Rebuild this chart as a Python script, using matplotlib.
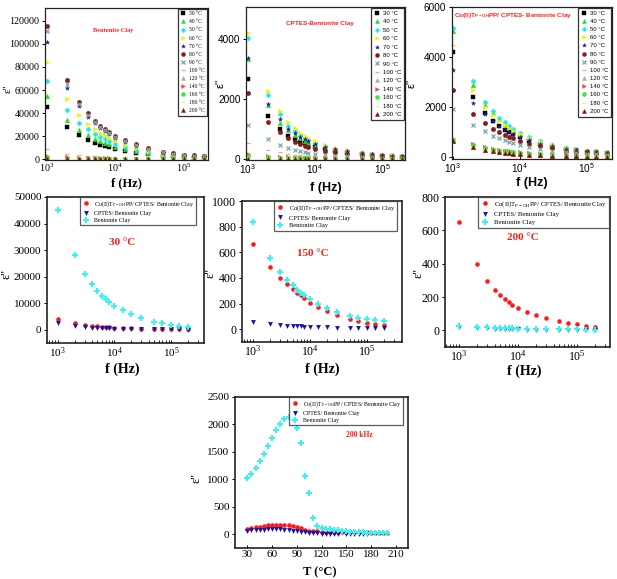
import numpy as np
import matplotlib.pyplot as plt
from matplotlib.ticker import LogLocator, NullFormatter

W, H = 617, 579

# frequency points (kHz) and temperatures of the top three panels
freq_khz = [1, 2, 3, 4, 5, 6, 7, 8, 10, 14, 20, 30, 50, 70, 100, 140, 200]
temps = [30, 40, 50, 60, 70, 80, 90, 100, 120, 140, 160, 180, 200]

bent = [
    [45000, 28200, 21000, 17100, 14500, 12700, 11400, 10400, 9000, 7300, 5800, 4400, 3000, 2400, 1800, 1400, 1000],
    [55000, 34000, 25700, 21000, 18000, 15800, 14200, 13000, 11000, 8800, 7000, 5300, 3600, 2900, 2200, 1700, 1300],
    [68000, 42500, 31500, 26000, 22000, 19300, 17300, 15700, 13400, 10600, 8400, 6300, 4300, 3400, 2600, 2000, 1550],
    [84000, 52000, 38500, 31000, 26500, 23200, 20800, 18900, 16100, 12700, 10000, 7500, 5100, 4000, 3100, 2400, 1850],
    [102000, 62000, 46000, 37000, 31500, 27500, 24500, 22200, 18900, 14900, 11700, 8700, 5900, 4600, 3600, 2800, 2200],
    [115000, 69000, 50000, 40000, 33500, 29200, 26000, 23500, 20500, 16500, 13000, 9800, 6800, 5300, 4200, 3400, 2800],
    [111000, 65000, 48000, 38500, 32500, 28300, 25200, 22800, 19800, 15900, 12500, 9400, 6500, 5100, 4000, 3200, 2600],
    [8600, 5000, 3700, 3000, 2600, 2300, 2100, 1900, 1650, 1350, 1100, 850, 620, 500, 400, 320, 260],
    [1500, 900, 650, 520, 450, 400, 360, 330, 280, 230, 190, 150, 110, 90, 70, 55, 45],
    [3200, 2000, 1500, 1250, 1100, 980, 890, 820, 720, 600, 490, 390, 290, 240, 195, 160, 130],
    [900, 560, 420, 350, 300, 270, 245, 225, 195, 160, 130, 105, 80, 66, 55, 46, 38],
    [300, 190, 145, 120, 105, 95, 86, 80, 70, 58, 48, 39, 30, 25, 21, 18, 15],
    [28, 22, 18, 16, 15, 14, 13, 12, 11, 10, 9, 8, 7, 6, 6, 5, 5],
]

cptes = [
    [2650, 1435, 1015, 775, 660, 580, 520, 470, 400, 330, 270, 215, 160, 135, 112, 95, 80],
    [3315, 1790, 1215, 950, 790, 690, 610, 550, 470, 380, 305, 240, 180, 150, 125, 105, 90],
    [4010, 2120, 1490, 1100, 920, 790, 700, 630, 540, 430, 340, 270, 200, 170, 140, 118, 100],
    [4200, 2265, 1600, 1240, 1020, 880, 780, 700, 600, 470, 370, 290, 215, 180, 150, 125, 105],
    [3370, 1820, 1330, 995, 850, 740, 660, 590, 510, 410, 330, 260, 195, 165, 138, 115, 98],
    [2210, 1240, 885, 685, 580, 505, 450, 405, 345, 280, 225, 178, 133, 112, 94, 80, 68],
    [1140, 663, 475, 354, 300, 260, 232, 210, 178, 145, 118, 94, 72, 62, 52, 45, 38],
    [550, 310, 220, 170, 145, 126, 112, 102, 86, 70, 57, 46, 35, 30, 25, 22, 19],
    [120, 70, 52, 42, 36, 32, 29, 26, 22, 18, 15, 12, 9, 8, 7, 6, 5],
    [165, 95, 70, 56, 48, 42, 38, 35, 30, 25, 20, 16, 12, 10, 9, 8, 7],
    [90, 55, 40, 33, 28, 25, 22, 20, 17, 14, 12, 10, 8, 7, 6, 5, 4],
    [60, 38, 28, 23, 20, 18, 16, 15, 13, 11, 9, 8, 6, 5, 5, 4, 4],
    [18, 14, 12, 10, 9, 8, 8, 7, 6, 5, 4, 3, 2, 2, 1, 1, 0],
]

co = [
    [4200, 2400, 1756, 1450, 1250, 1110, 1000, 920, 800, 660, 540, 430, 330, 280, 235, 200, 170],
    [5040, 2900, 2110, 1780, 1520, 1350, 1210, 1100, 950, 770, 620, 485, 360, 300, 250, 210, 175],
    [5150, 3036, 2205, 1850, 1580, 1400, 1260, 1150, 990, 800, 640, 500, 370, 310, 255, 215, 180],
    [4490, 2680, 2020, 1680, 1460, 1300, 1170, 1070, 930, 760, 615, 485, 360, 305, 255, 215, 180],
    [3470, 2180, 1716, 1450, 1270, 1140, 1030, 950, 830, 680, 555, 440, 335, 285, 240, 205, 175],
    [2680, 1716, 1386, 1150, 1010, 905, 825, 760, 660, 545, 450, 360, 275, 235, 200, 170, 145],
    [1950, 1294, 1056, 860, 760, 680, 620, 570, 500, 415, 340, 275, 210, 180, 152, 130, 112],
    [760, 540, 430, 360, 315, 280, 255, 235, 205, 170, 140, 115, 88, 75, 64, 55, 47],
    [720, 520, 410, 345, 300, 268, 243, 224, 195, 162, 134, 110, 84, 72, 61, 52, 45],
    [740, 530, 420, 352, 306, 273, 248, 229, 200, 166, 137, 112, 86, 73, 62, 53, 46],
    [700, 480, 380, 315, 275, 245, 222, 205, 180, 150, 124, 101, 78, 66, 56, 48, 41],
    [680, 440, 330, 275, 240, 212, 192, 177, 155, 128, 106, 87, 67, 57, 48, 41, 35],
    [653, 400, 299, 244, 212, 186, 168, 154, 137, 112, 93, 75, 55, 45, 36, 29, 23],
]

# 150 °C comparison (middle panel)
co_150 = [668, 486, 403, 350, 317, 286, 265, 247, 208, 170, 138, 108, 78, 64, 52, 42, 34]
cptes_150 = [57, 39, 31, 28, 25, 23, 21, 20, 18, 16, 14, 12, 10, 9, 8, 7, 6]
bent_150 = [834, 558, 447, 382, 343, 304, 285, 265, 234, 196, 163, 132, 102, 89, 78, 70, 64]

# temperature scan at 200 kHz
temp_scan = list(range(30, 205, 5))
bent_200k = [1020, 1090, 1200, 1330, 1455, 1615, 1750, 1905, 2015, 2100,
             2140, 2075, 1935, 1665, 1070, 745, 300, 150, 110, 100,
             90, 80, 72, 65, 55, 50, 45, 40, 36, 32,
             30, 26, 22, 20, 18]
co_200k = [100, 110, 125, 140, 155, 162, 168, 172, 173, 170,
           163, 155, 140, 115, 85, 65, 58, 52, 50, 47,
           45, 43, 41, 40, 38, 37, 36, 35, 34, 33,
           32, 31, 30, 30, 30]
nan = np.nan
cptes_200k = [60, 70, 75, 80, 85, 88, 90, 90, 88, 83,
              75, 65, 55, 45, 35, 25, 20, 15, 12, 10,
              10, 8, 8, nan, 6, 5, 5, 4, 4, 3,
              nan, nan, nan, nan, nan]

styles = [('s', '#000000'), ('^', '#22dd22'), ('P', '#11e8f0'), ('>', '#f2f200'),
          ('*', '#1e1ea0'), ('o', '#8b1a1a'), ('x', '#7aa8a8'), ('_', '#f2a0a0'),
          ('^', '#a8a8a8'), ('>', '#f04848'), ('o', '#2ef02e'), ('_', '#f0f07a'),
          ('^', '#8b0a0a')]

SERIF = 'Liberation Serif'
SANS = 'Liberation Sans'
CO_LABEL = r'Co(II)T$_{\mathregular{P-OH}}$PP/ CPTES/ Bentonite Clay'

fig = plt.figure(figsize=(W / 100, H / 100), dpi=100)
f_hz = np.array(freq_khz) * 1e3


def px_axes(x0, y0, x1, y1):
    return fig.add_axes([x0 / W, 1 - y1 / H, (x1 - x0) / W, (y1 - y0) / H])


def style_axes(ax, fam, tsize, lw=0.9):
    for s in ax.spines.values():
        s.set_linewidth(lw)
        s.set_color('#222222')
    ax.tick_params(axis='y', direction='out', length=2.5, width=0.7,
                   labelsize=tsize, labelfontfamily=fam, pad=1.5)
    ax.tick_params(axis='x', direction='in', length=2.5, width=0.7,
                   labelsize=tsize, labelfontfamily=fam, pad=1.5)


def place_labels(ax, lxy, xxy):
    ax.yaxis.set_label_coords(*lxy)
    ax.yaxis.label.set_va('center')
    ax.xaxis.set_label_coords(*xxy)
    ax.xaxis.label.set_va('center')


def top_panel(box, data, xlim, ylim, yticks, title, txy, fam, lxy, xl_y, tsize,
              leg_size, leg_ls):
    ax = px_axes(*box)
    for (m, c), t, y in zip(styles, temps, data):
        ax.plot(f_hz, y, ls='none', marker=m, color=c, ms=3.2,
                mew=0.9 if m in ('x', '_') else 0.3, label=f'{t} °C')
    ax.set_xscale('log')
    ax.set_xlim(*xlim)
    ax.set_ylim(*ylim)
    ax.set_yticks(yticks)
    ax.set_xticks([1e3, 1e4, 1e5])
    ax.xaxis.set_minor_locator(LogLocator(subs='auto'))
    ax.xaxis.set_minor_formatter(NullFormatter())
    ax.tick_params(axis='x', which='minor', length=0)
    style_axes(ax, fam, tsize)
    ax.text(*txy, title, transform=ax.transAxes, color='#ff2020', fontsize=4.6,
            fontweight='bold', family=fam, ha='center', va='center')
    ax.set_ylabel("ε''", family=fam, fontsize=8)
    ax.set_xlabel('f (Hz)', family=fam, fontsize=9, fontweight='bold')
    place_labels(ax, lxy, (0.5, xl_y))
    leg = ax.legend(loc='upper right', borderaxespad=0.1, prop={'family': fam, 'size': leg_size},
                    handlelength=1.0, handletextpad=0.5, labelspacing=leg_ls,
                    borderpad=0.5, frameon=True, fancybox=False, markerscale=0.9)
    leg.get_frame().set_edgecolor('black')
    leg.get_frame().set_linewidth(0.9)
    return ax


def mid_legend(ax, leg_x, size):
    leg = ax.legend(loc='upper right', bbox_to_anchor=(leg_x, 1.0), borderaxespad=0.0,
                    prop={'family': SERIF, 'size': size},
                    handlelength=1.4, handletextpad=0.6, labelspacing=0.35,
                    borderpad=0.35, frameon=True, fancybox=False)
    leg.get_frame().set_edgecolor('#333333')
    leg.get_frame().set_linewidth(0.9)


def plot_three(ax, x, ys):
    ax.plot(x, ys[0], ls='none', marker='o', color='#ff1a1a', ms=3.3, mew=0, label=CO_LABEL)
    ax.plot(x, ys[1], ls='none', marker='v', color='#1515aa', ms=3.5, mew=0,
            label='CPTES/ Bentonite Clay')
    ax.plot(x, ys[2], ls='none', marker='P', color='#33f5f5', ms=4.5, mew=0,
            label='Bentonite Clay')


def mid_panel(box, ys, xlim, ylim, yticks, label, lab_xy, lxy, xxy, tsize, leg_x, leg_size):
    ax = px_axes(*box)
    plot_three(ax, f_hz, ys)
    ax.set_xscale('log')
    ax.set_xlim(*xlim)
    ax.set_ylim(*ylim)
    ax.set_yticks(yticks)
    ax.set_xticks([1e3, 1e4, 1e5])
    ax.xaxis.set_minor_locator(LogLocator(subs='auto'))
    ax.xaxis.set_minor_formatter(NullFormatter())
    style_axes(ax, SERIF, tsize, lw=1.2)
    ax.tick_params(axis='x', which='minor', direction='in', length=2, width=0.6)
    ax.text(*lab_xy, label, transform=ax.transAxes, color='#ff1a1a', fontsize=8,
            fontweight='bold', family=SERIF, ha='center', va='center')
    ax.set_ylabel("ε''", family=SERIF, fontsize=9)
    ax.set_xlabel('f (Hz)', family=SERIF, fontsize=10, fontweight='bold')
    place_labels(ax, lxy, xxy)
    mid_legend(ax, leg_x, leg_size)
    return ax


# top row
top_panel((45, 8, 208, 160), bent, (950, 2.25e5), (-500, 131000), range(0, 130000, 20000),
          'Bentonite Clay', (0.42, 0.85), SERIF, (-0.225, 0.47), -0.15, 7.2, 4.0, 0.55)
top_panel((246, 7, 405, 160), cptes, (940, 2.2e5), (-30, 5050), [0, 2000, 4000],
          'CPTES-Bentonite Clay', (0.465, 0.895), SANS, (-0.16, 0.5), -0.18, 7.2, 4.3, 0.55)
top_panel((452, 7, 612, 159), co, (980, 2.4e5), (-60, 6000), [0, 2000, 4000, 6000],
          r'Co(II)T$_{\mathregular{P-OH}}$PP/ CPTES- Bentonite Clay', (0.38, 0.945), SANS,
          (-0.25, 0.5), -0.16, 7.2, 4.3, 0.5)

# middle row
i30 = temps.index(30)
i200 = temps.index(200)
mid_panel((47, 197, 204, 343), (co[i30], cptes[i30], bent[i30]), (650, 3.8e5), (-5000, 50000),
          range(0, 50001, 10000), '30 °C', (0.48, 0.69), (-0.255, 0.47), (0.48, -0.18),
          8.0, 0.95, 4.3)
mid_panel((242, 201, 402, 342), (co_150, cptes_150, bent_150), (650, 4.1e5), (-100, 1000),
          range(0, 1001, 200), '150 °C', (0.44, 0.63), (-0.195, 0.49), (0.5, -0.19),
          8.6, 0.97, 4.6)
mid_panel((445, 197, 610, 347), (co[i200], cptes[i200], bent[i200]), (575, 3.6e5), (-100, 800),
          range(0, 801, 200), '200 °C', (0.47, 0.73), (-0.16, 0.49), (0.48, -0.16),
          8.6, 0.995, 4.9)

# bottom: temperature scan at 200 kHz
ax = px_axes(235, 397, 408, 548)
plot_three(ax, temp_scan, (co_200k, cptes_200k, bent_200k))
ax.set_xlim(15, 225)
ax.set_ylim(-250, 2500)
ax.set_xticks(range(30, 211, 30))
ax.set_yticks(range(0, 2501, 500))
style_axes(ax, SERIF, 8, lw=1.2)
ax.text(0.72, 0.75, '200 kHz', transform=ax.transAxes, color='#ff1a1a', fontsize=5.5,
        fontweight='bold', family=SERIF, ha='center', va='center')
ax.set_ylabel("ε''", family=SERIF, fontsize=9)
ax.set_xlabel('T (°C)', family=SERIF, fontsize=9, fontweight='bold')
place_labels(ax, (-0.22, 0.46), (0.49, -0.16))
mid_legend(ax, 0.97, 4.2)

fig.savefig('out.png', dpi=100, facecolor='white')
